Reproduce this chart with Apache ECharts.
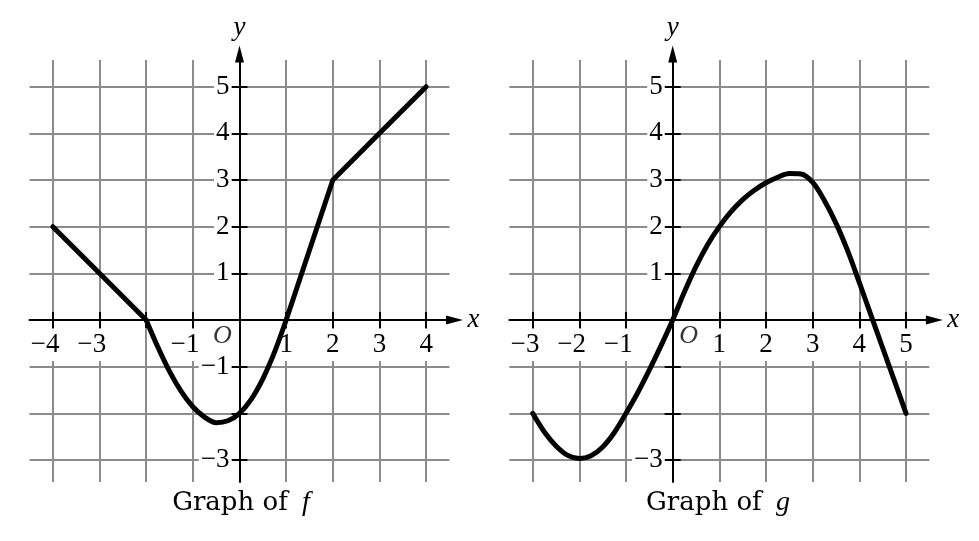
<!DOCTYPE html>
<html><head><meta charset="utf-8">
<script src="https://cdn.jsdelivr.net/npm/echarts@6/dist/echarts.min.js"></script>
<style>html,body{margin:0;padding:0;background:#fff}#c{width:979px;height:541px}</style>
</head><body><div id="c"></div>
<script>
// ---- Graph of f ----
const fLeftX = [-4, -3, -2];
const fLeftY = [2, 1, 0];
const fCurveX = [-2, -1.75, -1.5, -1.25, -1, -0.75, -0.5, -0.25, 0, 0.25, 0.5, 0.75, 1];
const fCurveY = [0, -0.58, -1.1, -1.53, -1.86, -2.08, -2.2, -2.16, -2, -1.7, -1.26, -0.69, 0];
const fRightX = [1, 2, 3, 4];
const fRightY = [0, 3, 4, 5];
const fTicksX = [-4, -3, -2, -1, 0, 1, 2, 3, 4];
const fLabelsX = [-4, -3, -1, 1, 2, 3, 4];
const fTicksY = [-3, -2, -1, 0, 1, 2, 3, 4, 5];
const fLabelsY = [-3, -1, 1, 2, 3, 4, 5];
// ---- Graph of g ----
const gX = [-3, -2.75, -2.5, -2.25, -2, -1.75, -1.5, -1.25, -1, -0.75, -0.5, -0.25, 0, 0.25, 0.5, 0.75, 1, 1.25, 1.5, 1.75, 2, 2.25, 2.5, 2.75, 3, 3.25, 3.5, 3.75, 4, 4.25, 4.5, 4.75, 5];
const gY = [-2, -2.4, -2.7, -2.9, -2.97, -2.91, -2.72, -2.41, -2, -1.56, -1.07, -0.55, 0, 0.6, 1.15, 1.62, 2, 2.32, 2.58, 2.78, 2.94, 3.06, 3.14, 3.13, 2.95, 2.56, 2.07, 1.48, 0.8, 0.1, -0.6, -1.3, -2];
const gTicksX = [-3, -2, -1, 0, 1, 2, 3, 4, 5];
const gLabelsX = [-3, -2, -1, 1, 2, 3, 4, 5];
const gTicksY = [-3, -2, -1, 0, 1, 2, 3, 4, 5];
const gLabelsY = [-3, 1, 2, 3, 4, 5];
const origin = [[0, 0]];
const titles = ['Graph of ', 'f', 'g'];

const U = 140 / 3;
const OY = 320;
const zip = (a, b) => a.map((v, i) => [v, b[i]]);
const SERIF = "'Liberation Serif', 'Times New Roman', Tinos, serif";
const GRID_C = '#8c8c8c';
const BLACK = '#000';
const LBL = 27;
const MINUS = '\u2212';

function panel(ox, xmin, xmax, ymin, ymax) {
  const left = ox + xmin * U, top = OY - ymax * U;
  const width = (xmax - xmin) * U, height = (ymax - ymin) * U;
  return { ox: ox, xmin: xmin, xmax: xmax, ymin: ymin, ymax: ymax,
    grid: { left: left, top: top, width: width, height: height, containLabel: false, outerBoundsMode: 'none' },
    offBottom: -(top + height - OY), offTop: -(OY - top),
    offLeft: -(ox - left), offRight: -(left + width - ox) };
}
const P = [panel(239.5, -4.5, 4.5, -3.47, 5.57), panel(672.7, -3.5, 5.5, -3.47, 5.57)];

const labelBase = { fontFamily: SERIF, fontSize: LBL, color: BLACK,
  showMinLabel: true, showMaxLabel: true, hideOverlap: false };
const yFmt = v => v < 0 ? MINUS + (-v) : String(v);
const tickStyle = { color: BLACK, width: 2 };

function axesFor(pi, ticksX, labelsX, ticksY, labelsY) {
  const p = P[pi];
  const xs = [
    { type: 'value', gridIndex: pi, min: p.xmin, max: p.xmax, position: 'bottom', z: 1,
      axisLine: { show: false, onZero: false }, axisLabel: { show: false },
      splitLine: { show: true, lineStyle: { color: GRID_C, width: 2 } }, axisTick: { show: false, customValues: ticksX } },
    { type: 'value', gridIndex: pi, min: p.xmin, max: p.xmax, position: 'bottom', offset: p.offBottom, z: 3,
      name: 'x', nameLocation: 'end', nameGap: 18,
      nameTextStyle: { fontFamily: SERIF, fontStyle: 'italic', fontSize: 27, color: BLACK, padding: [0, 0, 8, 0] },
      axisLine: { show: true, onZero: false, symbol: ['none', 'triangle'], symbolSize: [9, 17], symbolOffset: [0, 5],
        lineStyle: { color: BLACK, width: 2 } },
      axisTick: { show: true, inside: false, length: 8, customValues: ticksX, lineStyle: tickStyle },
      axisLabel: Object.assign({ show: true, customValues: labelsX, formatter: v => String(Math.abs(v)), margin: 9,
        padding: [2, 2, 3, 2], backgroundColor: '#fff' }, labelBase),
      splitLine: { show: false } },
    { type: 'value', gridIndex: pi, min: p.xmin, max: p.xmax, position: 'bottom', offset: p.offBottom, z: 3,
      axisLine: { show: false, onZero: false }, axisTick: { show: false },
      axisLabel: Object.assign({ show: true, customValues: labelsX.filter(v => v < 0), formatter: () => MINUS,
        margin: 9, align: 'right', padding: [2, 7, 3, 0] }, labelBase),
      splitLine: { show: false } },
    { type: 'value', gridIndex: pi, min: p.xmin, max: p.xmax, position: 'top', offset: p.offTop, z: 3,
      axisLine: { show: false, onZero: false },
      axisTick: { show: true, inside: false, length: 8, customValues: ticksX, lineStyle: tickStyle },
      axisLabel: { show: false }, splitLine: { show: false } }
  ];
  const ys = [
    { type: 'value', gridIndex: pi, min: p.ymin, max: p.ymax, position: 'left', z: 1,
      axisLine: { show: false, onZero: false }, axisLabel: { show: false },
      splitLine: { show: true, lineStyle: { color: GRID_C, width: 2 } }, axisTick: { show: false, customValues: ticksY } },
    { type: 'value', gridIndex: pi, min: p.ymin, max: p.ymax, position: 'left', offset: p.offLeft, z: 3,
      name: 'y', nameLocation: 'end', nameGap: 19,
      nameTextStyle: { fontFamily: SERIF, fontStyle: 'italic', fontSize: 27, color: BLACK },
      axisLine: { show: true, onZero: false, symbol: ['none', 'triangle'], symbolSize: [9, 17], symbolOffset: [0, 6],
        lineStyle: { color: BLACK, width: 2 } },
      axisTick: { show: true, inside: false, length: 8, customValues: ticksY, lineStyle: tickStyle },
      axisLabel: Object.assign({ show: true, customValues: labelsY, formatter: yFmt, margin: 8,
        padding: [0, 2, 0, 2], backgroundColor: '#fff' }, labelBase),
      splitLine: { show: false } },
    { type: 'value', gridIndex: pi, min: p.ymin, max: p.ymax, position: 'right', offset: p.offRight, z: 3,
      axisLine: { show: false, onZero: false },
      axisTick: { show: true, inside: false, length: 8, customValues: ticksY, lineStyle: tickStyle },
      axisLabel: { show: false }, splitLine: { show: false } }
  ];
  return { xs: xs, ys: ys };
}
const A0 = axesFor(0, fTicksX, fLabelsX, fTicksY, fLabelsY);
const A1 = axesFor(1, gTicksX, gLabelsX, gTicksY, gLabelsY);
const NX = A0.xs.length;
const NY = A0.ys.length;

const curveStyle = { color: BLACK, width: 5, cap: 'round', join: 'round' };
function lineSeries(xi, yi, data, smooth) {
  return { type: 'line', xAxisIndex: xi, yAxisIndex: yi, data: data, smooth: smooth, showSymbol: false,
    symbol: 'none', lineStyle: curveStyle, z: 5, silent: true };
}
function originSeries(xi, yi, off) {
  return { type: 'scatter', xAxisIndex: xi, yAxisIndex: yi, data: origin, symbolSize: 1, z: 4, silent: true,
    itemStyle: { color: 'rgba(0,0,0,0)' },
    label: { show: true, position: 'inside', formatter: 'O', offset: off,
      fontFamily: SERIF, fontStyle: 'italic', fontSize: 26, color: BLACK } };
}
function titleOf(cx, letter) {
  return { text: titles[0] + '{i|' + letter + '}', left: cx, top: 488, textAlign: 'center', padding: 0,
    textStyle: { fontFamily: 'DejaVu Serif', fontSize: 26, fontWeight: 'normal', color: BLACK, lineHeight: 30,
      rich: { i: { fontFamily: SERIF, fontStyle: 'italic', fontSize: 28, lineHeight: 30, color: BLACK, padding: [0, 0, 0, 6] } } } };
}

const option = {
  animation: false,
  backgroundColor: '#fff',
  title: [titleOf(241, titles[1]), titleOf(718, titles[2])],
  grid: [P[0].grid, P[1].grid],
  xAxis: A0.xs.concat(A1.xs),
  yAxis: A0.ys.concat(A1.ys),
  series: [
    lineSeries(0, 0, zip(fLeftX, fLeftY), false),
    lineSeries(0, 0, zip(fCurveX, fCurveY), 0.35),
    lineSeries(0, 0, zip(fRightX, fRightY), false),
    originSeries(0, 0, [-17, 16.5]),
    lineSeries(NX, NY, zip(gX, gY), 0.35),
    originSeries(NX, NY, [16, 16.5])
  ]
};
const chart = echarts.init(document.getElementById('c'), null, { renderer: 'canvas' });
chart.setOption(option);
</script></body></html>
